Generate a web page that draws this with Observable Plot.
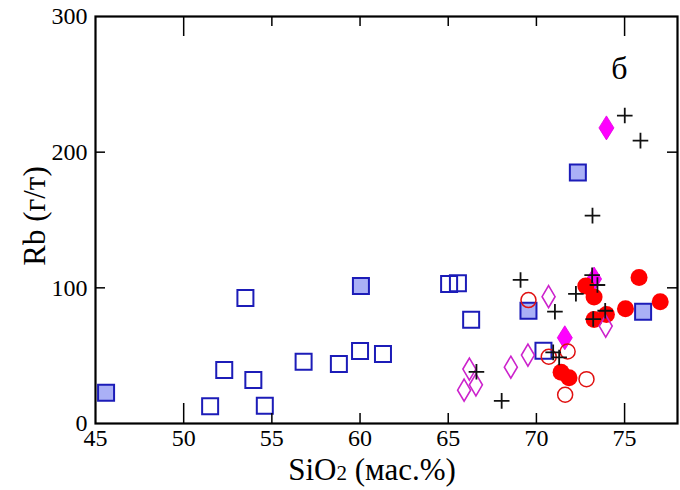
<!DOCTYPE html>
<html><head><meta charset="utf-8">
<script src="https://cdn.jsdelivr.net/npm/d3@7"></script>
<script src="https://cdn.jsdelivr.net/npm/@observablehq/plot@0.6"></script>
<style>body{margin:0;background:#fff}</style>
</head><body><div id="chart"></div>
<script>
// [SiO2, Rb]
const openSquares = [[51.5,12.8],[52.3,39.4],[53.5,92.5],[53.95,32],[54.6,13],[56.8,45.5],[58.8,43.8],[60.0,53.4],[61.3,51.2],[65.05,102.8],[65.55,103.3],[66.3,76.5],[70.4,53.6]];
const filledSquares = [[45.6,22.6],[60.05,101.3],[69.55,83.1],[72.35,185.1],[76.05,82.4]];
const openCircles = [[69.55,91.0],[70.7,49.2],[71.77,53.1],[72.84,32.7],[71.63,21.2]];
const filledCircles = [[71.4,37.7],[71.85,33.7],[72.8,101.4],[73.27,93.2],[73.97,80.3],[73.27,76.6],[75.05,84.6],[75.82,107.6],[77.02,89.8]];
const openDiamonds = [[65.9,24.6],[66.2,40.1],[66.57,28.5],[68.55,41.5],[69.52,50.4],[70.69,93.5],[73.93,71.8]];
const filledDiamonds = [[71.61,63.2],[73.27,106.5],[73.97,217.9]];
const crosses = [[66.6,38.1],[68.03,16.7],[69.1,105.8],[70.95,52.4],[71.29,48.7],[71.05,82.4],[72.24,95.6],[73.16,109.3],[73.46,102.1],[73.22,77],[73.9,83.1],[73.18,153.2],[75.01,227],[75.9,208.5]];

const xTicks = [45,50,55,60,65,70,75];
const xMajor = [50,75];
const xMinor = [55,60,65,70];
const yTicks = [0,100,200,300];
const yInner = [100,200];
const xLabelMain = "SiO";
const xLabelSub = "2";
const xLabelRest = " (мас.%)";
const yLabel = "Rb (г/т)";
const panelLabel = "б";

const FONT = "'Liberation Serif', 'DejaVu Serif', serif";
const W=680,H=490,mL=95,mR=3,mT=16,mB=67;
const pw=W-mL-mR, ph=H-mT-mB;

const symSquare = {draw(c){c.rect(-8,-8,16,16);}};
const symDiamond = (hw,hh)=>({draw(c){c.moveTo(0,-hh);c.lineTo(hw,0);c.lineTo(0,hh);c.lineTo(-hw,0);c.closePath();}});
const symCircle = (r)=>({draw(c){c.moveTo(r,0);c.arc(0,0,r,0,2*Math.PI);c.closePath();}});
const symPlus = (h)=>({draw(c){c.moveTo(-h,0);c.lineTo(h,0);c.moveTo(0,-h);c.lineTo(0,h);}});

const X = d=>d[0], Y = d=>d[1];
const blue = "#1c1cb8", lav = "#aab0f6", red = "#ff0000", mag = "#cc22cc";

const plot = Plot.plot({
  width: W, height: H,
  marginLeft: mL, marginRight: mR, marginTop: mT, marginBottom: mB,
  style: `font-family: ${FONT}; background: white; color: black;`,
  x: {domain: [45, 78]},
  y: {domain: [0, 300]},
  marks: [
    Plot.dot(filledDiamonds, {x: X, y: Y, symbol: symDiamond(7.5,12), fill: "#ff00ff", stroke: "#e000e0", strokeWidth: 0.8}),
    Plot.dot(openSquares, {x: X, y: Y, symbol: symSquare, fill: "none", stroke: blue, strokeWidth: 2}),
    Plot.dot(filledSquares, {x: X, y: Y, symbol: symSquare, fill: lav, stroke: blue, strokeWidth: 2}),
    Plot.dot(filledCircles, {x: X, y: Y, symbol: symCircle(8.5), fill: red, stroke: "none"}),
    Plot.dot(openCircles, {x: X, y: Y, symbol: symCircle(7.5), fill: "none", stroke: "#e01010", strokeWidth: 1.5}),
    Plot.dot(openDiamonds, {x: X, y: Y, symbol: symDiamond(6.5,11), fill: "none", stroke: mag, strokeWidth: 1.6}),
    Plot.dot(crosses, {x: X, y: Y, symbol: symPlus(7.8), fill: "none", stroke: "#111", strokeWidth: 1.8}),
    Plot.tickX(xMajor, {x: d=>d, insetTop: ph-20, stroke: "black", strokeWidth: 1.5}),
    Plot.tickX(xMinor, {x: d=>d, insetTop: ph-10, stroke: "black", strokeWidth: 1.5}),
    Plot.tickX(xMajor, {x: d=>d, insetBottom: ph-20, stroke: "black", strokeWidth: 1.5}),
    Plot.tickX(xMinor, {x: d=>d, insetBottom: ph-10, stroke: "black", strokeWidth: 1.5}),
    Plot.tickY(yInner, {y: d=>d, insetRight: pw-10, stroke: "black", strokeWidth: 1.5}),
    Plot.tickY(yInner, {y: d=>d, insetLeft: pw-10, stroke: "black", strokeWidth: 1.5}),
    Plot.frame({stroke: "black", strokeWidth: 2.2}),
    Plot.axisX({ticks: xTicks, tickSize: 0, tickPadding: 5, fontSize: 24, label: null, fontFamily: FONT}),
    Plot.axisY({ticks: yTicks, tickSize: 0, tickPadding: 8, fontSize: 24, label: null, fontFamily: FONT}),
    Plot.text([yLabel], {text: d=>d, frameAnchor: "left", textAnchor: "middle", dx: -60, dy: -4, rotate: -90, fontSize: 31, fontFamily: FONT}),
    Plot.text([panelLabel], {text: d=>d, frameAnchor: "top-right", textAnchor: "middle", dx: -58, dy: 62, lineAnchor: "bottom", fontSize: 32, fontFamily: FONT})
  ]
});

const svg = d3.select(plot);
const t = svg.append("text")
  .attr("x", 372).attr("y", 480)
  .attr("text-anchor", "middle")
  .attr("font-size", 31)
  .attr("font-family", FONT)
  .attr("fill", "black");
t.append("tspan").text(xLabelMain);
t.append("tspan").attr("font-size", 21).text(xLabelSub);
t.append("tspan").text(xLabelRest);
svg.selectAll("text").attr("font-family", FONT);

document.getElementById("chart").appendChild(plot);
</script>
</body></html>
